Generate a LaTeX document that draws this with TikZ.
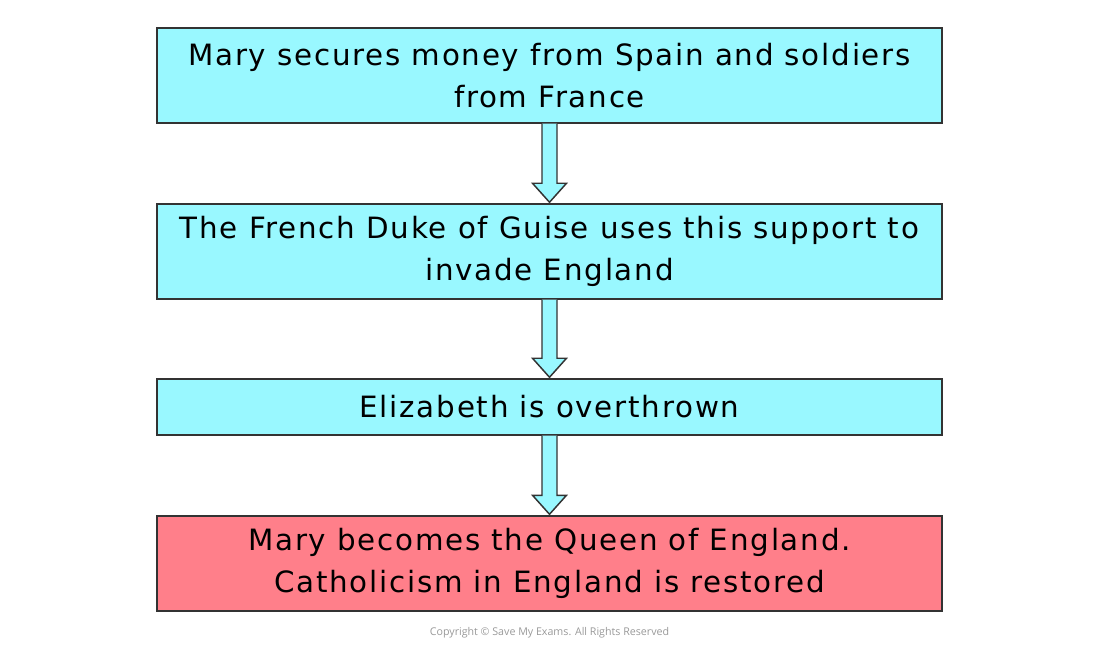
\documentclass[tikz,border=0pt]{standalone}
\usepackage{fontspec}
\setmainfont{DejaVu Sans}
\newfontfamily\boxfont[LetterSpace=6]{DejaVu Sans}
\newfontfamily\copyfont{Open Sans}
\usetikzlibrary{calc}
\definecolor{boxcyan}{HTML}{99F8FF}
\definecolor{boxpink}{HTML}{FF7F8A}
\definecolor{edge}{HTML}{333333}
\begin{document}
\begin{tikzpicture}[x=0.75pt,y=-0.75pt,
  flowbox/.style={draw=edge,line width=1.1pt,fill=boxcyan,minimum width=785*0.75pt,
    minimum height=95*0.75pt,inner sep=0pt,align=center,font=\boxfont\fontsize{22}{31.5}\selectfont},
  flowarrow/.style={draw=edge,line width=1.1pt,fill=boxcyan,line join=miter}]
\useasboundingbox (0,0) rectangle (1100,652);
\node[flowbox] (b1) at (549.5,75.5) {Mary secures money from Spain and soldiers\\from France};
\node[flowbox] (b2) at (549.5,251.5) {The French Duke of Guise uses this support to\\invade England};
\node[flowbox,minimum height=56*0.75pt] (b3) at (549.5,407) {Elizabeth is overthrown};
\node[flowbox,fill=boxpink] (b4) at (549.5,563.5) {Mary becomes the Queen of England.\\Catholicism in England is restored};
\foreach \a/\b in {b1/b2,b2/b3,b3/b4}{
  \draw[flowarrow] ($(\a.south)+(-7.5,0)$) -- ($(\b.north)+(-7.5,-20)$) -- ($(\b.north)+(-17,-20)$)
    -- ($(\b.north)+(0,-1)$) -- ($(\b.north)+(17,-20)$) -- ($(\b.north)+(7.5,-20)$)
    -- ($(\a.south)+(7.5,0)$);
}
\node[font=\copyfont\fontsize{8}{10}\selectfont,text=black!40] (copy) at (549.5,633) {Copyright © Save My Exams. All Rights Reserved};
\end{tikzpicture}
\end{document}
